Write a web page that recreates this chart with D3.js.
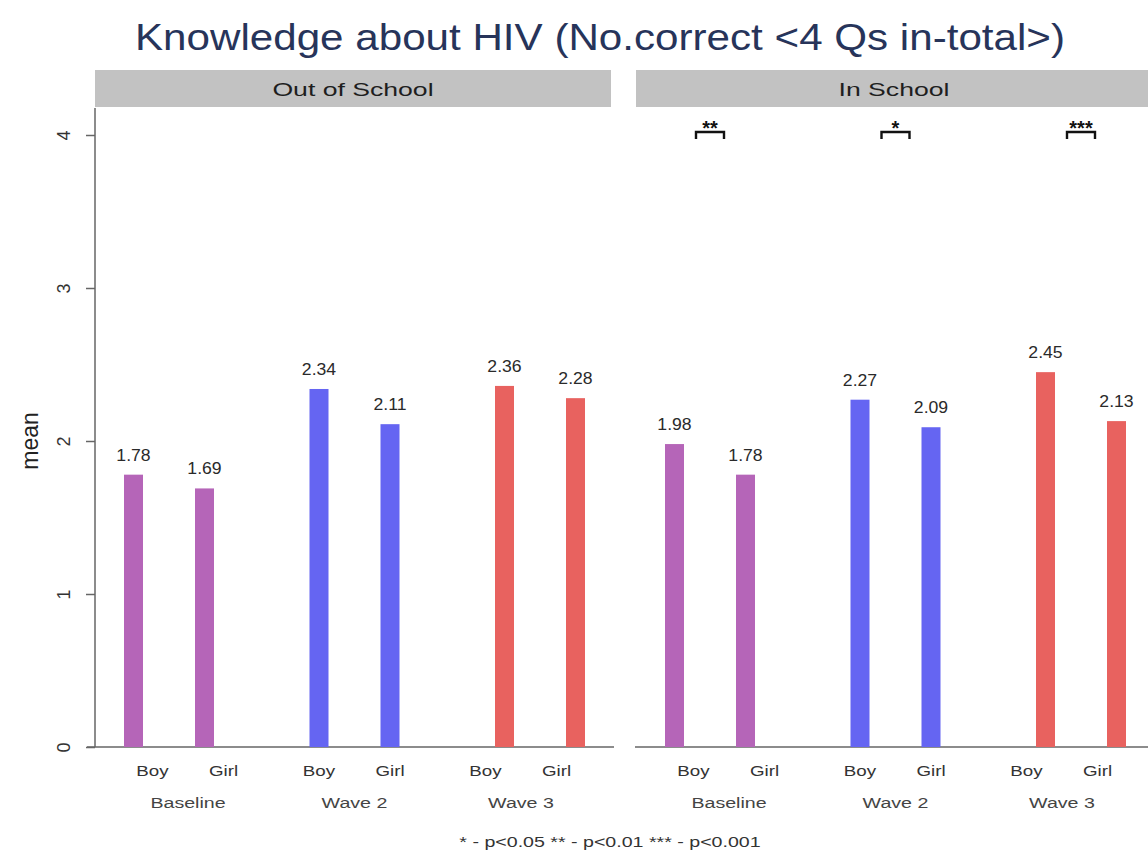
<!DOCTYPE html>
<html>
<head>
<meta charset="utf-8">
<script src="https://cdn.jsdelivr.net/npm/d3@7"></script>
<style>
  body { margin: 0; background: #fff; }
  text { font-family: "Liberation Sans", Arial, Helvetica, sans-serif; }
</style>
</head>
<body>
<div id="chart"></div>
<script>
// Datos del gráfico
const panels = ["Out of School", "In School"];
const waves = ["Baseline", "Wave 2", "Wave 3"];
const sexes = ["Boy", "Girl"];
const valuesOut = [1.78, 1.69, 2.34, 2.11, 2.36, 2.28];
const valuesIn = [1.98, 1.78, 2.27, 2.09, 2.45, 2.13];
const stars = [null, ["**", "*", "***"]];
const yTicks = [0, 1, 2, 3, 4];
const waveColors = ["#b565b8", "#6565f2", "#e8625f"];

const W = 1148, H = 852;
const panelX = [95, 636];
const panelW = 518;
const yTop = 108, yBottom = 747;

const svg = d3.select("#chart").append("svg")
    .attr("width", W)
    .attr("height", H);

// Estira el texto en horizontal (la figura original está ensanchada)
function stretch(sel, k) {
    sel.each(function() {
        const len = this.getComputedTextLength();
        d3.select(this)
            .attr("textLength", len * k)
            .attr("lengthAdjust", "spacingAndGlyphs");
    });
}

// Escala Y
const y = d3.scaleLinear().domain([0, 4]).range([747, 135]);

// Escalas X: barras y etiquetas usan posiciones distintas
const xBar = d3.scalePoint().domain(waves).range([74, 445]);
const xLab = d3.scalePoint().domain(waves).range([93, 426]);
const xSub = d3.scalePoint().domain(sexes).range([-35.5, 35.5]);
const color = d3.scaleOrdinal().domain(waves).range(waveColors);
const barW = 19;

// Título
svg.append("text")
    .attr("x", 600)
    .attr("y", 50)
    .attr("text-anchor", "middle")
    .attr("font-size", 37)
    .attr("fill", "#27345a")
    .text("Knowledge about HIV (No.correct <4 Qs in-total>)")
    .attr("textLength", 930)
    .attr("lengthAdjust", "spacingAndGlyphs");

[valuesOut, valuesIn].forEach((vals, p) => {
    const g = svg.append("g").attr("transform", `translate(${panelX[p]},0)`);

    // Franja del panel
    g.append("rect")
        .attr("x", 0).attr("y", 70)
        .attr("width", panelW - 2).attr("height", 37)
        .attr("fill", "#c2c2c2");
    g.append("text")
        .attr("x", (panelW - 2) / 2).attr("y", 96)
        .attr("text-anchor", "middle")
        .attr("font-size", 19)
        .attr("fill", "#1e1e1e")
        .text(panels[p])
        .call(stretch, 1.4);

    // Eje X
    g.append("line")
        .attr("x1", p === 0 ? -8 : -1).attr("x2", p === 0 ? panelW + 1 : panelW)
        .attr("y1", y(0)).attr("y2", y(0))
        .attr("stroke", "#666").attr("stroke-width", 1.5);

    const rows = [];
    waves.forEach((w, i) => sexes.forEach((s, j) => rows.push({ wave: w, sex: s, value: vals[i * 2 + j] })));

    // Barras
    g.selectAll("rect.bar")
        .data(rows)
        .enter()
        .append("rect")
        .attr("class", "bar")
        .attr("x", d => xBar(d.wave) + xSub(d.sex) - barW / 2)
        .attr("y", d => y(d.value))
        .attr("width", barW)
        .attr("height", d => y(0) - y(d.value))
        .attr("fill", d => color(d.wave));

    // Valores
    g.selectAll("text.val")
        .data(rows)
        .enter()
        .append("text")
        .attr("class", "val")
        .attr("x", d => xBar(d.wave) + xSub(d.sex))
        .attr("y", d => y(d.value) - 14)
        .attr("text-anchor", "middle")
        .attr("font-size", 16)
        .attr("fill", "#2a2a2a")
        .text(d => d.value.toFixed(2))
        .call(stretch, 1.1);

    // Etiquetas Boy / Girl
    g.selectAll("text.sex")
        .data(rows)
        .enter()
        .append("text")
        .attr("class", "sex")
        .attr("x", d => xLab(d.wave) + xSub(d.sex))
        .attr("y", 776)
        .attr("text-anchor", "middle")
        .attr("font-size", 15)
        .attr("fill", "#333")
        .text(d => d.sex)
        .call(stretch, 1.25);

    // Etiquetas de ola
    g.selectAll("text.wave")
        .data(waves)
        .enter()
        .append("text")
        .attr("class", "wave")
        .attr("x", d => xLab(d))
        .attr("y", 808)
        .attr("text-anchor", "middle")
        .attr("font-size", 14)
        .attr("fill", "#444")
        .text(d => d)
        .call(stretch, 1.4);

    // Significancia
    if (stars[p]) {
        waves.forEach((w, i) => {
            const cx = xBar(w);
            g.append("path")
                .attr("d", `M${cx - 14},139V132H${cx + 14}V139`)
                .attr("fill", "none")
                .attr("stroke", "#111")
                .attr("stroke-width", 2.4);
            g.append("text")
                .attr("x", cx).attr("y", 135)
                .attr("text-anchor", "middle")
                .attr("font-size", 20)
                .attr("font-weight", "bold")
                .attr("fill", "#111")
                .text(stars[p][i]);
        });
    }

    // Eje Y solo en el primer panel
    if (p === 0) {
        g.append("line")
            .attr("x1", 0).attr("x2", 0)
            .attr("y1", yTop).attr("y2", yBottom)
            .attr("stroke", "#666").attr("stroke-width", 1.5);
        const ax = g.append("g")
            .call(d3.axisLeft(y).tickValues(yTicks).tickSize(9).tickFormat(d3.format("d")));
        ax.select(".domain").remove();
        ax.selectAll(".tick line").attr("stroke", "#666").attr("stroke-width", 1.5);
        ax.selectAll(".tick text")
            .style("font-size", "18px")
            .style("font-family", "Liberation Sans, Arial, sans-serif")
            .attr("fill", "#333")
            .attr("transform", "rotate(-90)")
            .attr("x", 0)
            .attr("y", -31)
            .attr("dy", "0.35em")
            .style("text-anchor", "middle");
    }
});

// Etiqueta del eje Y
svg.append("text")
    .attr("transform", `translate(38,${y(2)}) rotate(-90)`)
    .attr("text-anchor", "middle")
    .attr("font-size", 23)
    .attr("fill", "#222")
    .text("mean");

// Nota al pie
svg.append("text")
    .attr("x", 610)
    .attr("y", 847)
    .attr("text-anchor", "middle")
    .attr("font-size", 14)
    .attr("fill", "#333")
    .text("* - p<0.05 ** - p<0.01 *** - p<0.001")
    .call(stretch, 1.4);
</script>
</body>
</html>
